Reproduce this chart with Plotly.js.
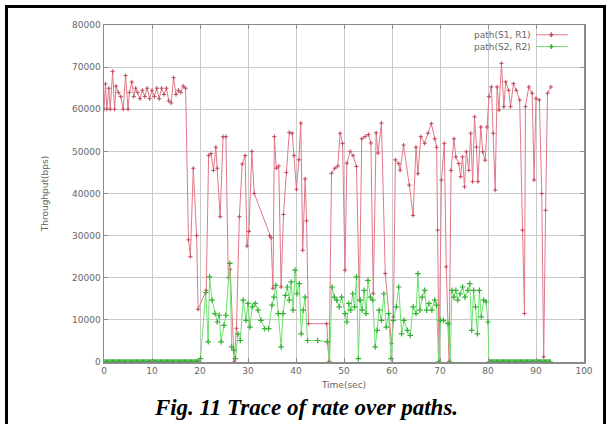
<!DOCTYPE html>
<html>
<head>
<meta charset="utf-8">
<script src="https://cdn.plot.ly/plotly-3.0.1.min.js"></script>
<style>
html,body{margin:0;padding:0;background:#fff;}
#wrap{position:relative;width:613px;height:424px;overflow:hidden;}
#chart{position:absolute;left:0;top:0;width:613px;height:424px;}
#frame{position:absolute;left:5px;top:5px;width:601px;height:430px;border:3px solid #000;box-sizing:border-box;pointer-events:none;}
#cap{position:absolute;left:0;width:613px;top:395px;text-align:center;font-family:"Liberation Serif","Times New Roman",serif;font-weight:bold;font-style:italic;font-size:23px;color:#000;}
</style>
</head>
<body>
<div id="wrap">
<div id="chart"></div>
<div id="frame"></div>
<div id="cap">Fig. 11 Trace of rate over paths.</div>
</div>
<script>
// Series 1: path(S1, R1)
const redX = [0,0.3,0.6,1,1.3,1.8,2.2,2.5,3,3.5,4,4.5,5,5.3,5.8,6.2,6.6,7,7.5,8,8.5,9,9.5,10,10.5,11,11.5,12,12.5,13,13.5,14,14.5,15,15.5,16,16.5,17,
  17.6,18,18.6,19.3,19.6,21.3,21.8,22.3,22.8,23.3,23.6,24.2,24.8,25.4,25.9,26.3,27.1,27.6,28.2,28.8,29.4,29.8,30.2,30.8,31.3,34.5,34.8,35.2,35.5,35.9,36.4,36.9,37.4,38,38.6,39.2,39.6,40.1,40.6,41,41.4,41.9,42.2,42.6,46.4,46.9,
  47.4,48.1,48.7,49.2,49.7,50.2,50.6,51.3,51.9,52.6,53.2,53.7,54.4,55.1,55.6,56.1,56.7,57.1,57.8,58.6,59.9,60.3,60.7,61.4,61.7,62.4,63.6,64.4,65,65.4,66,66.8,67.5,68.2,68.9,69.3,69.5,69.8,
  70.3,70.9,71.3,71.9,72.3,72.9,73.3,73.9,74.3,74.7,75.1,75.5,76,76.4,76.8,77.2,77.6,77.9,78.5,78.9,79.4,79.8,80.2,80.7,81.1,81.5,81.9,82.3,82.8,83.3,83.7,84.3,84.7,85.3,85.9,86.6,87.2,87.6,87.8,88.5,89.2,89.6,90,90.7,91.2,91.6,92,92.4,93.1];
const redY = [60000,66000,60000,65000,60000,69000,60000,65500,64000,63000,60000,68000,60000,64000,66500,63000,65000,64000,62500,64500,63000,65000,62500,64500,63000,65000,62500,65000,63500,65000,62000,61500,67500,63500,64500,64000,65500,65000,
  29000,25000,46000,30000,12500,17000,49000,49500,45500,51000,46000,34500,53500,53500,20000,22000,0,8000,34500,47000,49000,27500,31000,50000,40000,30000,29500,17500,53500,46000,46500,17800,35000,45000,54500,54300,49000,41000,48000,56700,26500,43500,33500,9100,9100,0,
  44800,46000,46500,54300,51900,21800,47200,50000,49000,46400,14600,53000,53500,54000,52000,16200,54400,49600,56700,21000,4400,10700,48000,47100,45500,51500,42000,34800,51000,44700,53500,51900,54300,56600,53000,51000,31300,0,
  43200,51900,22600,0,45500,53000,48700,47100,44000,48700,41600,49900,45500,54300,42800,58200,51000,42800,55800,49900,47900,55800,63000,65300,54300,40800,65300,59800,70900,60600,66500,64500,60600,66100,64500,62200,31300,11500,60600,65300,63800,43200,62600,62200,40000,1200,36000,63800,65300];

// Series 2: path(S2, R2)
const greenX = [0,0.25,0.5,0.75,1,1.25,1.5,1.75,2,2.25,2.5,2.75,3,3.25,3.5,3.75,4,4.25,4.5,4.75,5,5.25,5.5,5.75,6,6.25,6.5,6.75,7,7.25,7.5,7.75,8,8.25,8.5,8.75,9,9.25,9.5,9.75,
  10,10.25,10.5,10.75,11,11.25,11.5,11.75,12,12.25,12.5,12.75,13,13.25,13.5,13.75,14,14.25,14.5,14.75,15,15.25,15.5,15.75,16,16.25,16.5,16.75,17,17.25,17.5,17.75,18,18.25,18.5,18.75,19,19.25,19.5,19.75,
  20.1,21.2,21.7,22,22.5,23.1,23.6,24,24.4,25,25.4,26.2,26.6,27,27.4,27.9,28.4,29,29.6,30,30.4,30.9,31.5,32.1,32.7,33.5,34.3,35,35.4,35.8,36.3,36.9,37.3,37.8,38.2,38.6,39,39.4,39.8,40.2,40.7,41.1,41.5,41.9,42.4,44.5,46.5,47,
  47.5,48,48.5,49,49.5,50.2,50.6,51,51.4,51.8,52.2,52.6,53,53.4,53.8,54.2,54.6,55,55.5,56,56.5,56.9,57.3,57.8,58.3,58.8,59.3,59.8,60.3,60.9,61.4,62,62.5,63.2,63.8,64.4,65,65.4,65.8,66.3,66.8,67.2,67.7,68.3,68.9,69.3,69.7,
  70.1,70.7,71.7,72.1,72.5,72.9,73.3,73.7,74.2,74.7,75.2,75.8,76.2,76.6,77,77.4,77.8,78.2,78.6,79.1,79.6,80,80.2,
  80.5,80.75,81,81.25,81.5,81.75,82,82.25,82.5,82.75,83,83.25,83.5,83.75,84,84.25,84.5,84.75,85,85.25,85.5,85.75,86,86.25,86.5,86.75,87,87.25,87.5,87.75,88,88.25,88.5,88.75,89,89.25,89.5,89.75,90,90.25,90.5,90.75,91,91.25,91.5,91.75,92,92.25,92.5,92.75,93];
const greenY = [0,0,0,0,0,0,0,0,0,0,0,0,0,0,0,0,0,0,0,0,0,0,0,0,0,0,0,0,0,0,0,0,0,0,0,0,0,0,0,0,
  0,0,0,0,0,0,0,0,0,0,0,0,0,0,0,0,0,0,0,0,0,0,0,0,0,0,0,0,0,0,0,0,0,0,0,0,0,0,0,0,
  800,16500,4800,20200,14700,11500,9500,11100,4800,8700,11100,23400,3600,2800,800,6700,5100,14700,9900,13900,8300,13100,13900,12300,9900,7900,7900,13500,15400,18200,11500,3600,11500,15800,17800,14700,19000,12300,21800,16200,18600,6700,12300,15400,5100,5100,4800,0,
  17800,15400,14700,13100,15400,11500,9500,13900,12300,16200,13100,20200,800,14700,12300,17000,11500,19400,15400,14700,3600,7500,12300,9900,16200,8300,11500,800,9900,13100,17800,6700,9900,7500,6300,13100,11500,21000,12300,15400,17000,12300,13900,12300,14700,13500,0,
  9900,9900,9100,0,17000,15400,17000,14700,16200,17800,15400,17000,18600,7500,17000,13100,6700,17000,10700,14700,14300,9500,0,
  0,0,0,0,0,0,0,0,0,0,0,0,0,0,0,0,0,0,0,0,0,0,0,0,0,0,0,0,0,0,0,0,0,0,0,0,0,0,0,0,0,0,0,0,0,0,0,0,0,0,0];

const seriesNames = ["path(S1, R1)", "path(S2, R2)"];
const xTicks = [0,10,20,30,40,50,60,70,80,90,100];
const yTicks = [0,10000,20000,30000,40000,50000,60000,70000,80000];

const redLine = '#e27888', redMark = '#c04a5c';
const greenLine = '#6ee06e', greenMark = '#34b034';

const traces = [
  {x: redX, y: redY, name: seriesNames[0], mode: 'lines+markers', type: 'scatter',
   line: {color: redLine, width: 1},
   marker: {symbol: 'cross-thin', size: 3, line: {color: redMark, width: 1}}},
  {x: greenX, y: greenY, name: seriesNames[1], mode: 'lines+markers', type: 'scatter',
   line: {color: greenLine, width: 1},
   marker: {symbol: 'cross-thin', size: 4, line: {color: greenMark, width: 1.2}}}
];

const tickFont = {family: 'DejaVu Sans, sans-serif', size: 9, color: '#666'};
const axisCommon = {
  showgrid: true, gridcolor: '#c9c9c9', gridwidth: 1,
  showline: true, linecolor: '#8a8a8a', linewidth: 1.5, mirror: 'ticks',
  ticks: 'inside', ticklen: 4, tickcolor: '#8a8a8a', tickwidth: 1,
  zeroline: false, tickfont: tickFont, fixedrange: true
};

// custom gnuplot-style legend (text right-aligned, sample to the right)
const legY = [0.971, 0.936];
const annotations = seriesNames.map((n, i) => ({
  xref: 'paper', yref: 'paper', x: 0.893, y: legY[i], xanchor: 'right', yanchor: 'middle',
  text: n, showarrow: false, font: {family: 'DejaVu Sans, sans-serif', size: 9, color: '#666'}
}));
const sampleCols = [[redLine, redMark], [greenLine, greenMark]];
const shapes = [];
seriesNames.forEach((n, i) => {
  shapes.push({type: 'line', xref: 'paper', yref: 'paper', x0: 0.9, x1: 0.966, y0: legY[i], y1: legY[i],
               line: {color: sampleCols[i][0], width: 1}});
  shapes.push({type: 'line', xref: 'paper', yref: 'paper', x0: 0.928, x1: 0.936, y0: legY[i], y1: legY[i],
               line: {color: sampleCols[i][1], width: 1.5}});
  shapes.push({type: 'line', xref: 'paper', yref: 'paper', x0: 0.932, x1: 0.932, y0: legY[i] - 0.007, y1: legY[i] + 0.007,
               line: {color: sampleCols[i][1], width: 1.5}});
});

const layout = {
  width: 613, height: 424,
  margin: {l: 104, r: 29, t: 25, b: 62},
  paper_bgcolor: 'rgba(0,0,0,0)', plot_bgcolor: '#fff',
  showlegend: false,
  xaxis: Object.assign({}, axisCommon, {
    range: [0, 100], tickvals: xTicks, ticktext: xTicks.map(String),
    title: {text: 'Time(sec)', font: {family: 'DejaVu Sans, sans-serif', size: 9, color: '#666'}, standoff: 6}
  }),
  yaxis: Object.assign({}, axisCommon, {
    range: [0, 80000], tickvals: yTicks, ticktext: yTicks.map(String),
    title: {text: 'Throughput(bps)', font: {family: 'DejaVu Sans, sans-serif', size: 9, color: '#666'}, standoff: 22}
  }),
  annotations: annotations,
  shapes: shapes
};

Plotly.newPlot('chart', traces, layout, {displayModeBar: false, staticPlot: true});
</script>
</body>
</html>
